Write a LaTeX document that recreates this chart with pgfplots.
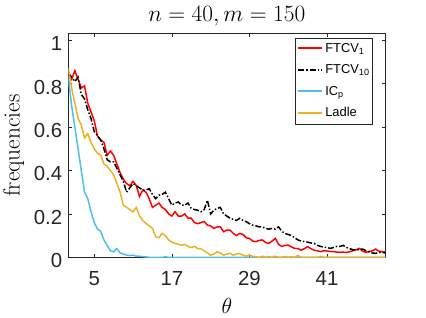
\RequirePackage{fix-cm}
\documentclass[border=0pt]{standalone}
\usepackage{pgfplots}
\pgfplotsset{compat=1.18}
\usepackage{pgfplotstable}
\usepackage{fontspec}
\newfontfamily\helv{Liberation Sans}

\definecolor{mred}{rgb}{1,0,0}
\definecolor{mblue}{rgb}{0.301,0.745,0.933}
\definecolor{morange}{rgb}{0.929,0.694,0.125}
\definecolor{maxis}{rgb}{0.15,0.15,0.15}

% theta, FTCV_1, FTCV_10, IC_p, Ladle
\pgfplotstableread{
t ftcv1 ftcv10 icp ladle
1 0.84 0.85 0.83 0.87
1.5 0.82 0.83 0.70 0.78
2 0.86 0.81 0.60 0.71
2.5 0.82 0.83 0.50 0.64
3 0.78 0.75 0.40 0.61
3.5 0.79 0.73 0.30 0.55
4 0.71 0.68 0.27 0.57
4.5 0.67 0.64 0.21 0.53
5 0.63 0.58 0.16 0.50
5.5 0.56 0.56 0.13 0.48
6 0.54 0.54 0.12 0.47
6.5 0.53 0.50 0.08 0.43
7 0.47 0.45 0.055 0.42
7.5 0.49 0.44 0.03 0.40
8 0.47 0.44 0.025 0.38
8.5 0.43 0.41 0.04 0.34
9 0.39 0.38 0.02 0.30
9.5 0.36 0.35 0.015 0.24
10 0.34 0.30 0.01 0.23
10.5 0.33 0.32 0.008 0.22
11 0.35 0.34 0.01 0.21
11.5 0.33 0.33 0.005 0.23
12 0.28 0.32 0.005 0.19
12.5 0.31 0.31 0.003 0.17
13 0.30 0.31 0.002 0.156
13.5 0.27 0.316 0 0.145
14 0.23 0.29 0 0.133
14.5 0.24 0.27 0 0.095
15 0.25 0.286 0 0.09
15.5 0.23 0.29 0 0.11
16 0.22 0.30 0.002 0.10
16.5 0.20 0.27 0 0.08
17 0.19 0.24 0 0.07
17.5 0.21 0.25 0 0.064
18 0.19 0.255 0 0.06
18.5 0.19 0.24 0 0.056
19 0.20 0.24 0 0.06
19.5 0.18 0.25 0 0.05
20 0.18 0.225 0 0.045
20.5 0.16 0.22 0 0.05
21 0.155 0.217 0 0.04
21.5 0.16 0.21 0 0.04
22 0.165 0.22 0 0.03
22.5 0.148 0.263 0 0.02
23 0.145 0.20 0 0.01
23.5 0.133 0.217 0 0.015
24 0.14 0.225 0 0.025
24.5 0.14 0.23 0 0.02
25 0.118 0.20 0 0.01
25.5 0.125 0.19 0 0.015
26 0.125 0.18 0 0.018
26.5 0.11 0.175 0 0.01
27 0.10 0.17 0 0.015
27.5 0.11 0.18 0 0.017
28 0.105 0.17 0 0.01
28.5 0.09 0.164 0 0.005
29 0.087 0.155 0 0.01
29.5 0.075 0.148 0 0.005
30 0.072 0.145 0 0.003
30.5 0.078 0.14 0 0
31 0.08 0.14 0 0.005
31.5 0.068 0.133 0 0
32 0.064 0.13 0 0.003
32.5 0.075 0.133 0 0
33 0.087 0.13 0 0.005
33.5 0.06 0.14 0 0
34 0.05 0.12 0 0
34.5 0.055 0.11 0 0.003
35 0.056 0.105 0 0
35.5 0.048 0.10 0 0.002
36 0.041 0.09 0 0
36.5 0.04 0.08 0 0.008
37 0.033 0.075 0 0
37.5 0.04 0.072 0 0
38 0.049 0.07 0 0
38.5 0.04 0.066 0 0
39 0.033 0.064 0 0
39.5 0.03 0.055 0 0
40 0.026 0.05 0 0.003
40.5 0.03 0.047 0 0
41 0.029 0.045 0 0
41.5 0.027 0.041 0 0
42 0.026 0.045 0 0
42.5 0.024 0.05 0 0
43 0.023 0.05 0 0
43.5 0.024 0.055 0 0
44 0.022 0.045 0 0
44.5 0.026 0.04 0 0
45 0.03 0.035 0 0
45.5 0.035 0.033 0 0
46 0.041 0.036 0 0
46.5 0.028 0.038 0 0
47 0.023 0.03 0 0
47.5 0.026 0.026 0 0
48 0.03 0.02 0 0
48.5 0.038 0.018 0 0
49 0.028 0.022 0 0
49.5 0.026 0.023 0 0
50 0.024 0.02 0 0
}\freqdata

\begin{document}
\begin{tikzpicture}
\begin{axis}[
    name=ax,
    scale only axis,
    width=319bp, height=225bp,
    xmin=1, xmax=50,
    ymin=0, ymax=1.03,
    xtick={5,17,29,41},
    ytick={0,0.2,0.4,0.6,0.8,1},
    tick align=inside,
    tick pos=both,
    major tick length=3.5bp,
    axis line style={draw=maxis, line width=0.6bp},
    every tick/.style={draw=maxis, line width=0.6bp},
    /pgf/number format/assume math mode=true,
    tick label style={font=\helv\fontsize{20.5bp}{24bp}\selectfont, text=maxis},
    xticklabel style={anchor=base, inner sep=0pt, yshift=-28bp},
    yticklabel style={anchor=east, inner sep=0pt, xshift=-6bp, yshift=-3.5bp},
    title={$n=40, m=150$},
    xlabel={$\theta$},
    ylabel={frequencies},
    every axis title/.style={at={([yshift=12bp]axis description cs:0.5,1)}, anchor=base, font=\fontsize{23.5bp}{27bp}\selectfont},
    every axis x label/.style={at={([yshift=-57bp]axis description cs:0.5,0)}, anchor=base, font=\fontsize{22bp}{26bp}\selectfont},
    every axis y label/.style={at={([xshift=-49bp]axis description cs:0,0.5)}, rotate=90, anchor=base, font=\fontsize{23.5bp}{27bp}\selectfont},
    legend style={
        at={(0.959,0.982)}, anchor=north east,
        font=\helv\fontsize{13bp}{15bp}\selectfont,
        draw=maxis, line width=0.5bp,
        inner sep=2.5bp,
        row sep=4.5bp,
        column sep=2bp,
        cells={anchor=west},
        nodes={inner sep=0pt, text height=12bp, text depth=5bp},
    },
    legend image code/.code={
        \draw[line width=2bp] (0bp,0.5bp) -- (24bp,0.5bp);
    },
    every axis plot/.append style={line width=1.5bp},
]
\addplot[color=mred] table[x=t, y=ftcv1] {\freqdata};
\addlegendentry{FTCV\textsubscript{1}}
\addplot[color=black, dash pattern=on 6bp off 2bp on 1.5bp off 2bp] table[x=t, y=ftcv10] {\freqdata};
\addlegendentry{FTCV\textsubscript{10}}
\addplot[color=mblue] table[x=t, y=icp] {\freqdata};
\addlegendentry{IC\textsubscript{p}}
\addplot[color=morange] table[x=t, y=ladle] {\freqdata};
\addlegendentry{Ladle}
\end{axis}
\path[use as bounding box] ([xshift=-66bp,yshift=-61bp]ax.south west) rectangle ([xshift=41bp,yshift=34bp]ax.north east);
\end{tikzpicture}
\end{document}
